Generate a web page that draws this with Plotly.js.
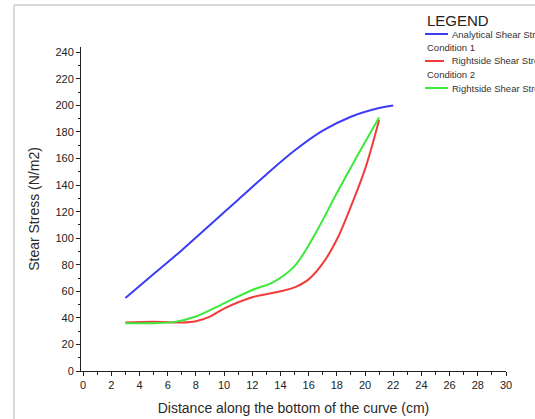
<!DOCTYPE html>
<html>
<head>
<meta charset="utf-8">
<script src="https://cdn.plot.ly/plotly-3.0.1.min.js"></script>
<style>html,body{margin:0;padding:0;background:#fff;}#chart{width:535px;height:419px;}</style>
</head>
<body>
<div id="chart"></div>
<script>
// Data
var analyticalX = [3,5,7,9,11,13,15,17,19,21,22];
var analyticalY = [55,73,91,110,129,148,166,181,191.5,198,200];
var cond1X = [3,5,7,8,9,10,12,14,15,16,17,18,19,20,21];
var cond1Y = [36.5,37,36.5,37.5,41,47,55.5,60,63,69,81,99,124,152,189];
var cond2X = [3,5,6.5,8,10,12,13.5,15,16.5,18,19.5,21];
var cond2Y = [36,36,37,41,51,61,67,79,104,134,163,191];
var xTicks = [0,2,4,6,8,10,12,14,16,18,20,22,24,26,28,30];
var yTicks = [0,20,40,60,80,100,120,140,160,180,200,220,240];
var legendTitle = 'LEGEND';
var seriesNames = ['Analytical Shear Stress', ' Rightside Shear Stress', 'Rightside Shear Stress'];
var conditionLabels = ['Condition 1', 'Condition 2'];

var colors = ['#3c3cf5', '#f23c3c', '#3ce83c'];

var L = 81, T = 47, W = 425, H = 324;
function px(x){ return (x - L) / W; }
function py(y){ return (T + H - y) / H; }

var font = 'Liberation Sans, Arial, sans-serif';

var traces = [
  {x: analyticalX, y: analyticalY, name: seriesNames[0], mode: 'lines', line: {color: colors[0], width: 2, shape: 'spline', smoothing: 1}},
  {x: cond1X, y: cond1Y, name: seriesNames[1], mode: 'lines', line: {color: colors[1], width: 2, shape: 'spline', smoothing: 1}},
  {x: cond2X, y: cond2Y, name: seriesNames[2], mode: 'lines', line: {color: colors[2], width: 2, shape: 'spline', smoothing: 1}}
];

var legendRows = [
  {lineY: 34, x0: 425, x1: 448, textX: 450, color: colors[0], text: seriesNames[0]},
  {lineY: 61, x0: 425, x1: 444, textX: 447, color: colors[1], text: seriesNames[1]},
  {lineY: 88, x0: 425, x1: 448, textX: 450, color: colors[2], text: seriesNames[2]}
];

var shapes = [
  {type: 'line', xref: 'paper', yref: 'paper', x0: px(14), x1: px(14), y0: py(5), y1: py(419), line: {color: '#cccccc', width: 1.5}},
  {type: 'line', xref: 'paper', yref: 'paper', x0: px(14), x1: px(535), y0: py(5), y1: py(5), line: {color: '#cccccc', width: 1.5}}
];
var annotations = [
  {xref: 'paper', yref: 'paper', x: px(425), y: py(20), xanchor: 'left', yanchor: 'middle', showarrow: false, text: legendTitle, font: {family: font, size: 15, color: '#222'}},
  {xref: 'paper', yref: 'paper', x: px(425), y: py(47.5), xanchor: 'left', yanchor: 'middle', showarrow: false, text: conditionLabels[0], font: {family: font, size: 9.5, color: '#333'}},
  {xref: 'paper', yref: 'paper', x: px(425), y: py(74.5), xanchor: 'left', yanchor: 'middle', showarrow: false, text: conditionLabels[1], font: {family: font, size: 9.5, color: '#333'}}
];
legendRows.forEach(function(r){
  shapes.push({type: 'line', xref: 'paper', yref: 'paper', x0: px(r.x0), x1: px(r.x1), y0: py(r.lineY), y1: py(r.lineY), line: {color: r.color, width: 2}});
  annotations.push({xref: 'paper', yref: 'paper', x: px(r.textX), y: py(r.lineY), xanchor: 'left', yanchor: 'middle', showarrow: false, text: r.text, font: {family: font, size: 9.5, color: '#333'}});
});

var layout = {
  width: 535, height: 419,
  margin: {l: L, r: 535 - L - W, t: T, b: 419 - T - H, pad: 0},
  paper_bgcolor: '#fff', plot_bgcolor: '#fff',
  showlegend: false,
  font: {family: font, size: 11, color: '#222'},
  xaxis: {
    range: [-0.15, 30], tickvals: xTicks, ticktext: xTicks.map(String),
    showgrid: false, zeroline: false, showline: true, linecolor: '#222', linewidth: 1,
    ticks: 'outside', ticklen: 4, tickcolor: '#222', tickfont: {family: font, size: 11, color: '#222'},
    minor: {dtick: 1, tick0: 0, ticks: 'outside', ticklen: 2.5, tickcolor: '#222', showgrid: false},
    title: {text: 'Distance along the bottom of the curve (cm)', font: {family: font, size: 14, color: '#2a2a2a'}, standoff: 12},
    automargin: false, fixedrange: true
  },
  yaxis: {
    range: [0, 244], tickvals: yTicks, ticktext: yTicks.map(String),
    showgrid: false, zeroline: false, showline: true, linecolor: '#222', linewidth: 1,
    ticks: 'outside', ticklen: 4, tickcolor: '#222', tickfont: {family: font, size: 11, color: '#222'},
    minor: {dtick: 10, tick0: 0, ticks: 'outside', ticklen: 2.5, tickcolor: '#222', showgrid: false},
    title: {text: 'Stear Stress (N/m2)', font: {family: font, size: 14, color: '#2a2a2a'}, standoff: 12},
    automargin: false, fixedrange: true
  },
  shapes: shapes,
  annotations: annotations
};

Plotly.newPlot('chart', traces, layout, {displayModeBar: false, staticPlot: true});
</script>
</body>
</html>
